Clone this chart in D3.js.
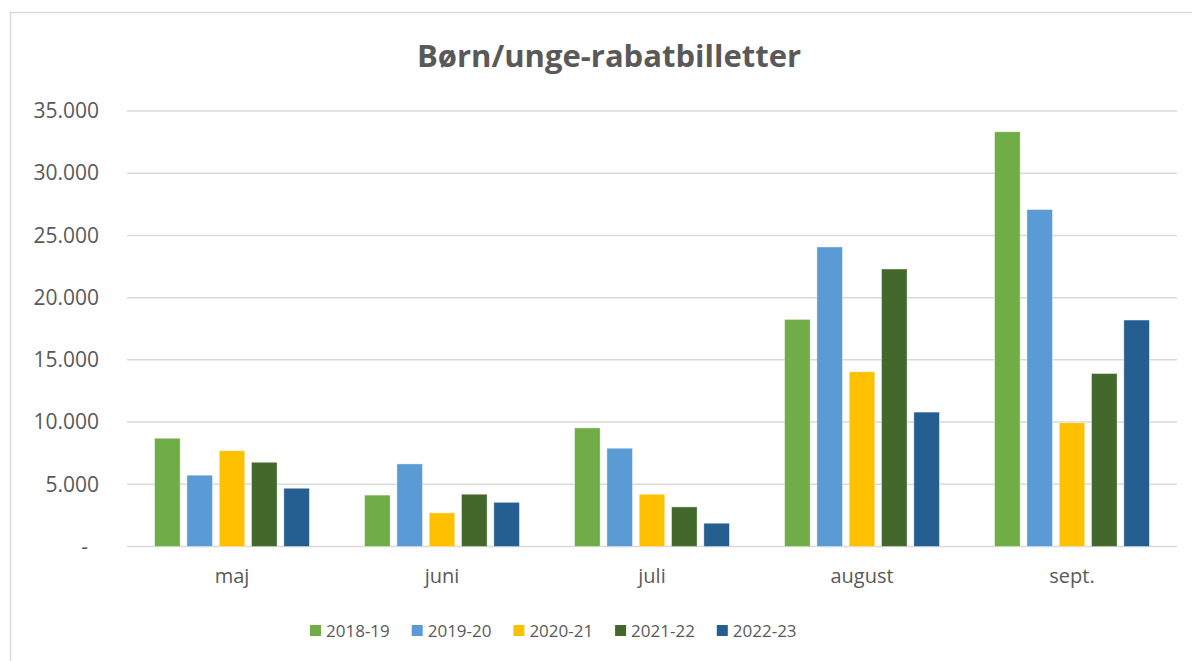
<!DOCTYPE html>
<meta charset="utf-8">
<style>
body { margin: 0; background: #fff; }
text { font-family: "Open Sans", sans-serif; fill: #595959; }
.grid line { stroke: #d9d9d9; stroke-width: 1.5; }
</style>
<svg width="1192" height="661"></svg>
<script src="https://d3js.org/d3.v7.min.js"></script>
<script>

// data
var months = ["maj", "juni", "juli", "august", "sept."];
var seasons = ["2018-19", "2019-20", "2020-21", "2021-22", "2022-23"];
var v2018 = [8700, 4130, 9530, 18250, 33330];
var v2019 = [5730, 6640, 7900, 24070, 27080];
var v2020 = [7690, 2700, 4200, 14040, 9940];
var v2021 = [6770, 4200, 3180, 22300, 13900];
var v2022 = [4680, 3550, 1870, 10800, 18200];
var yTicks = [0, 5000, 10000, 15000, 20000, 25000, 30000, 35000];
var colors = ["#70ad47", "#5b9bd5", "#ffc000", "#43682b", "#255e91"];

var series = [v2018, v2019, v2020, v2021, v2022];

var svg = d3.select("svg");

// chart frame
svg.append("rect")
    .attr("x", 10.5).attr("y", 12.5)
    .attr("width", 1200).attr("height", 700)
    .attr("fill", "none")
    .attr("stroke", "#d9d9d9")
    .attr("stroke-width", 1.5);

svg.append("text")
    .attr("x", 609)
    .attr("y", 67)
    .attr("text-anchor", "middle")
    .attr("font-weight", "bold")
    .attr("font-size", "31px")
    .text("Børn/unge-rabatbilletter");

var plotLeft = 127, plotRight = 1177, plotTop = 111, plotBottom = 546.5;

var y = d3.scaleLinear().domain([0, 35000]).range([plotBottom, plotTop]);

var x0 = d3.scaleBand()
    .domain(months)
    .range([plotLeft, plotRight])
    .paddingInner(0.263)
    .paddingOuter(0.1315);

var x1 = d3.scaleBand()
    .domain(d3.range(seasons.length))
    .range([0, x0.bandwidth()])
    .paddingInner(0.21)
    .paddingOuter(0);

// gridlines
svg.append("g")
    .attr("class", "grid")
    .selectAll("line")
    .data(yTicks)
    .enter().append("line")
    .attr("x1", plotLeft).attr("x2", plotRight)
    .attr("y1", function(d) { return y(d); })
    .attr("y2", function(d) { return y(d); });

// y axis labels
var fmt = function(d) { return d === 0 ? "-" : d3.format(",")(d).replace(/,/g, "."); };
var yAxis = svg.append("g")
    .attr("transform", "translate(" + (plotLeft - 28) + ",0)")
    .call(d3.axisLeft(y).tickValues(yTicks).tickSize(0).tickPadding(0).tickFormat(fmt));
yAxis.select(".domain").remove();
yAxis.selectAll("text")
    .attr("font-size", "21px")
    .attr("font-family", "Open Sans, sans-serif")
    .attr("fill", "#595959")
    .attr("dx", function(d) { return d === 0 ? -11 : 0; });

// bars
var groups = svg.append("g")
    .selectAll("g")
    .data(months)
    .enter().append("g")
    .attr("transform", function(d) { return "translate(" + x0(d) + ",0)"; });

groups.selectAll("rect")
    .data(function(m, i) { return series.map(function(s, k) { return { k: k, v: s[i] }; }); })
    .enter().append("rect")
    .attr("x", function(d) { return x1(d.k); })
    .attr("width", x1.bandwidth())
    .attr("y", function(d) { return y(d.v); })
    .attr("height", function(d) { return plotBottom - y(d.v); })
    .attr("fill", function(d) { return colors[d.k]; })
    .attr("stroke", "#fff")
    .attr("stroke-opacity", 0.5)
    .attr("stroke-width", 0.75);

// x axis labels
var xAxis = svg.append("g")
    .attr("transform", "translate(0," + plotBottom + ")")
    .call(d3.axisBottom(x0).tickSize(0).tickPadding(22));
xAxis.select(".domain").remove();
xAxis.selectAll("text")
    .attr("font-size", "20px")
    .attr("font-family", "Open Sans, sans-serif")
    .attr("fill", "#595959");

// legend
var legend = svg.append("g")
    .selectAll("g")
    .data(seasons)
    .enter().append("g")
    .attr("transform", function(d, i) { return "translate(" + (310 + i * 101.7) + ",625)"; });

legend.append("rect")
    .attr("width", 11).attr("height", 11)
    .attr("fill", function(d, i) { return colors[i]; });

legend.append("text")
    .attr("x", 16)
    .attr("y", 12)
    .attr("font-size", "17px")
    .text(function(d) { return d; });
</script>
